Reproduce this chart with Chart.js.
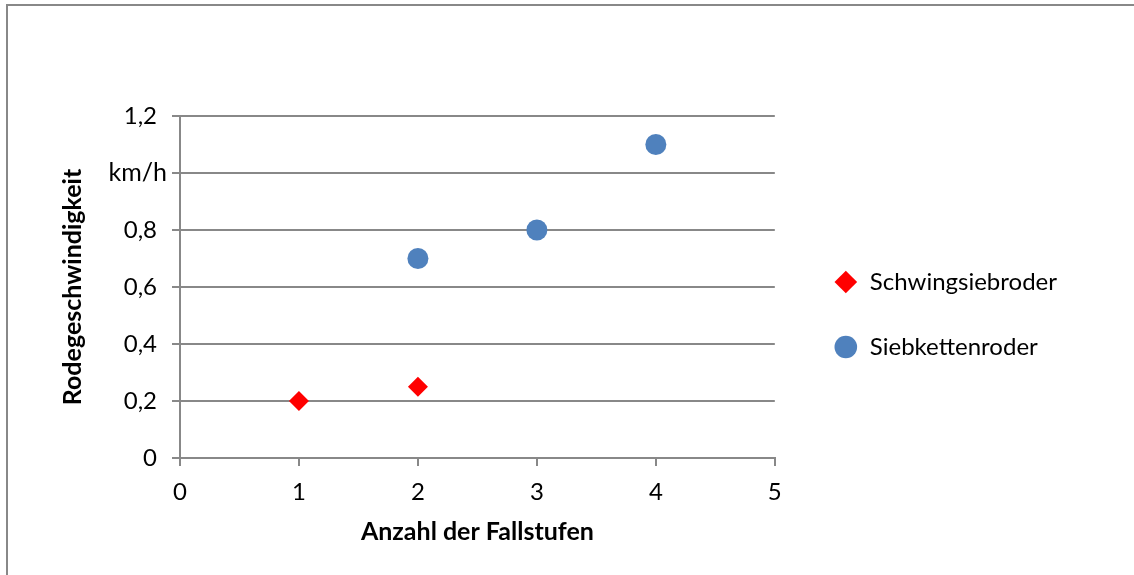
<!DOCTYPE html>
<html>
<head>
<meta charset="utf-8">
<script src="https://cdn.jsdelivr.net/npm/chart.js@4.4.1/dist/chart.umd.min.js"></script>
<style>
  html, body { margin: 0; padding: 0; background: #fff; }
  #wrap { position: relative; width: 1134px; height: 575px; overflow: hidden; }
  #frame { position: absolute; left: 6px; top: 4px; width: 1200px; height: 700px;
           border-left: 2px solid #888888; border-top: 2px solid #888888; pointer-events: none; }
  canvas { position: absolute; left: 0; top: 0; }
</style>
</head>
<body>
<div id="wrap">
  <canvas id="c" width="1134" height="575"></canvas>
  <div id="frame"></div>
</div>
<script>
const seriesNames = ['Schwingsiebroder', 'Siebkettenroder'];
const schwingX = [1, 2];
const schwingY = [0.2, 0.25];
const siebX = [2, 3, 4];
const siebY = [0.7, 0.8, 1.1];
const xTicks = [0, 1, 2, 3, 4, 5];
const yTicks = [0, 0.2, 0.4, 0.6, 0.8, 1.0, 1.2];
const yUnitLabel = 'km/h';
const xTitle = 'Anzahl der Fallstufen';
const yTitle = 'Rodegeschwindigkeit';

const FONT = 'Lato';
const GRAY = '#888888';
const TICK_SIZE = 24;
const TITLE_SIZE = 25;

const toPts = (xs, ys) => xs.map((x, i) => ({ x: x, y: ys[i] }));

const unitPlugin = {
  id: 'unitLabel',
  afterDraw(chart) {
    const s = chart.scales.y;
    const ctx = chart.ctx;
    ctx.save();
    ctx.font = '25px ' + FONT;
    ctx.fillStyle = '#000';
    ctx.textAlign = 'right';
    ctx.textBaseline = 'middle';
    ctx.fillText(yUnitLabel, s.right - 13, s.getPixelForValue(1.0));
    ctx.restore();
  }
};

function build() {
  new Chart(document.getElementById('c'), {
    type: 'scatter',
    data: {
      datasets: [
        { label: seriesNames[0], data: toPts(schwingX, schwingY), pointStyle: 'rectRot',
          pointRadius: 10, pointHoverRadius: 10, backgroundColor: '#FF0000', borderColor: '#FF0000', borderWidth: 0 },
        { label: seriesNames[1], data: toPts(siebX, siebY), pointStyle: 'circle',
          pointRadius: 10.5, pointHoverRadius: 10.5, backgroundColor: '#4F81BD', borderColor: '#4F81BD', borderWidth: 0 }
      ]
    },
    options: {
      responsive: false,
      animation: false,
      devicePixelRatio: 1,
      layout: { padding: { top: 116, bottom: 0, left: 0, right: 67 } },
      plugins: {
        tooltip: { enabled: false },
        legend: {
          position: 'right',
          fullSize: false,
          maxWidth: 400,
          title: { display: true, text: ' ', font: { size: 10 }, padding: { top: 43, bottom: 0 } },
          labels: {
            usePointStyle: true,
            boxHeight: 16,
            padding: 41,
            color: '#000',
            font: { family: FONT, size: TICK_SIZE }
          }
        }
      },
      scales: {
        x: {
          type: 'linear',
          min: 0, max: 5,
          afterBuildTicks: (s) => { s.ticks = xTicks.map(v => ({ value: v })); },
          afterFit: (s) => { s.height = 117; },
          border: { display: true, color: GRAY, width: 2 },
          grid: { drawOnChartArea: false, drawTicks: true, tickLength: 8, color: GRAY, lineWidth: 2 },
          ticks: { color: '#000', padding: 12, font: { family: FONT, size: TICK_SIZE } },
          title: { display: true, text: xTitle, color: '#000',
                   font: { family: FONT, size: TITLE_SIZE, weight: 'bold' }, padding: { top: 0, bottom: 28 } }
        },
        y: {
          type: 'linear',
          min: 0, max: 1.2,
          afterBuildTicks: (s) => { s.ticks = yTicks.map(v => ({ value: v })); },
          afterFit: (s) => { s.width = 180; },
          border: { display: true, color: GRAY, width: 2 },
          grid: { drawOnChartArea: true, drawTicks: true, tickLength: 8, color: GRAY, lineWidth: 2 },
          ticks: {
            color: '#000', padding: 15, font: { family: FONT, size: TICK_SIZE },
            callback: (v) => (Math.abs(v - 1) < 1e-9 ? '' : String(Math.round(v * 10) / 10).replace('.', ','))
          },
          title: { display: true, text: yTitle, color: '#000',
                   font: { family: FONT, size: TITLE_SIZE, weight: 'bold' }, padding: { top: 58, bottom: 0 } }
        },
        yPad: {
          type: 'linear', position: 'right', display: true,
          afterFit: (s) => { s.width = 18; },
          border: { display: false }, grid: { display: false }, ticks: { display: false }
        }
      }
    },
    plugins: [unitPlugin]
  });
}

const fontLoads = [
  document.fonts.load(TICK_SIZE + 'px ' + FONT),
  document.fonts.load('bold ' + TITLE_SIZE + 'px ' + FONT)
];
Promise.all(fontLoads).then(build, build);
</script>
</body>
</html>
